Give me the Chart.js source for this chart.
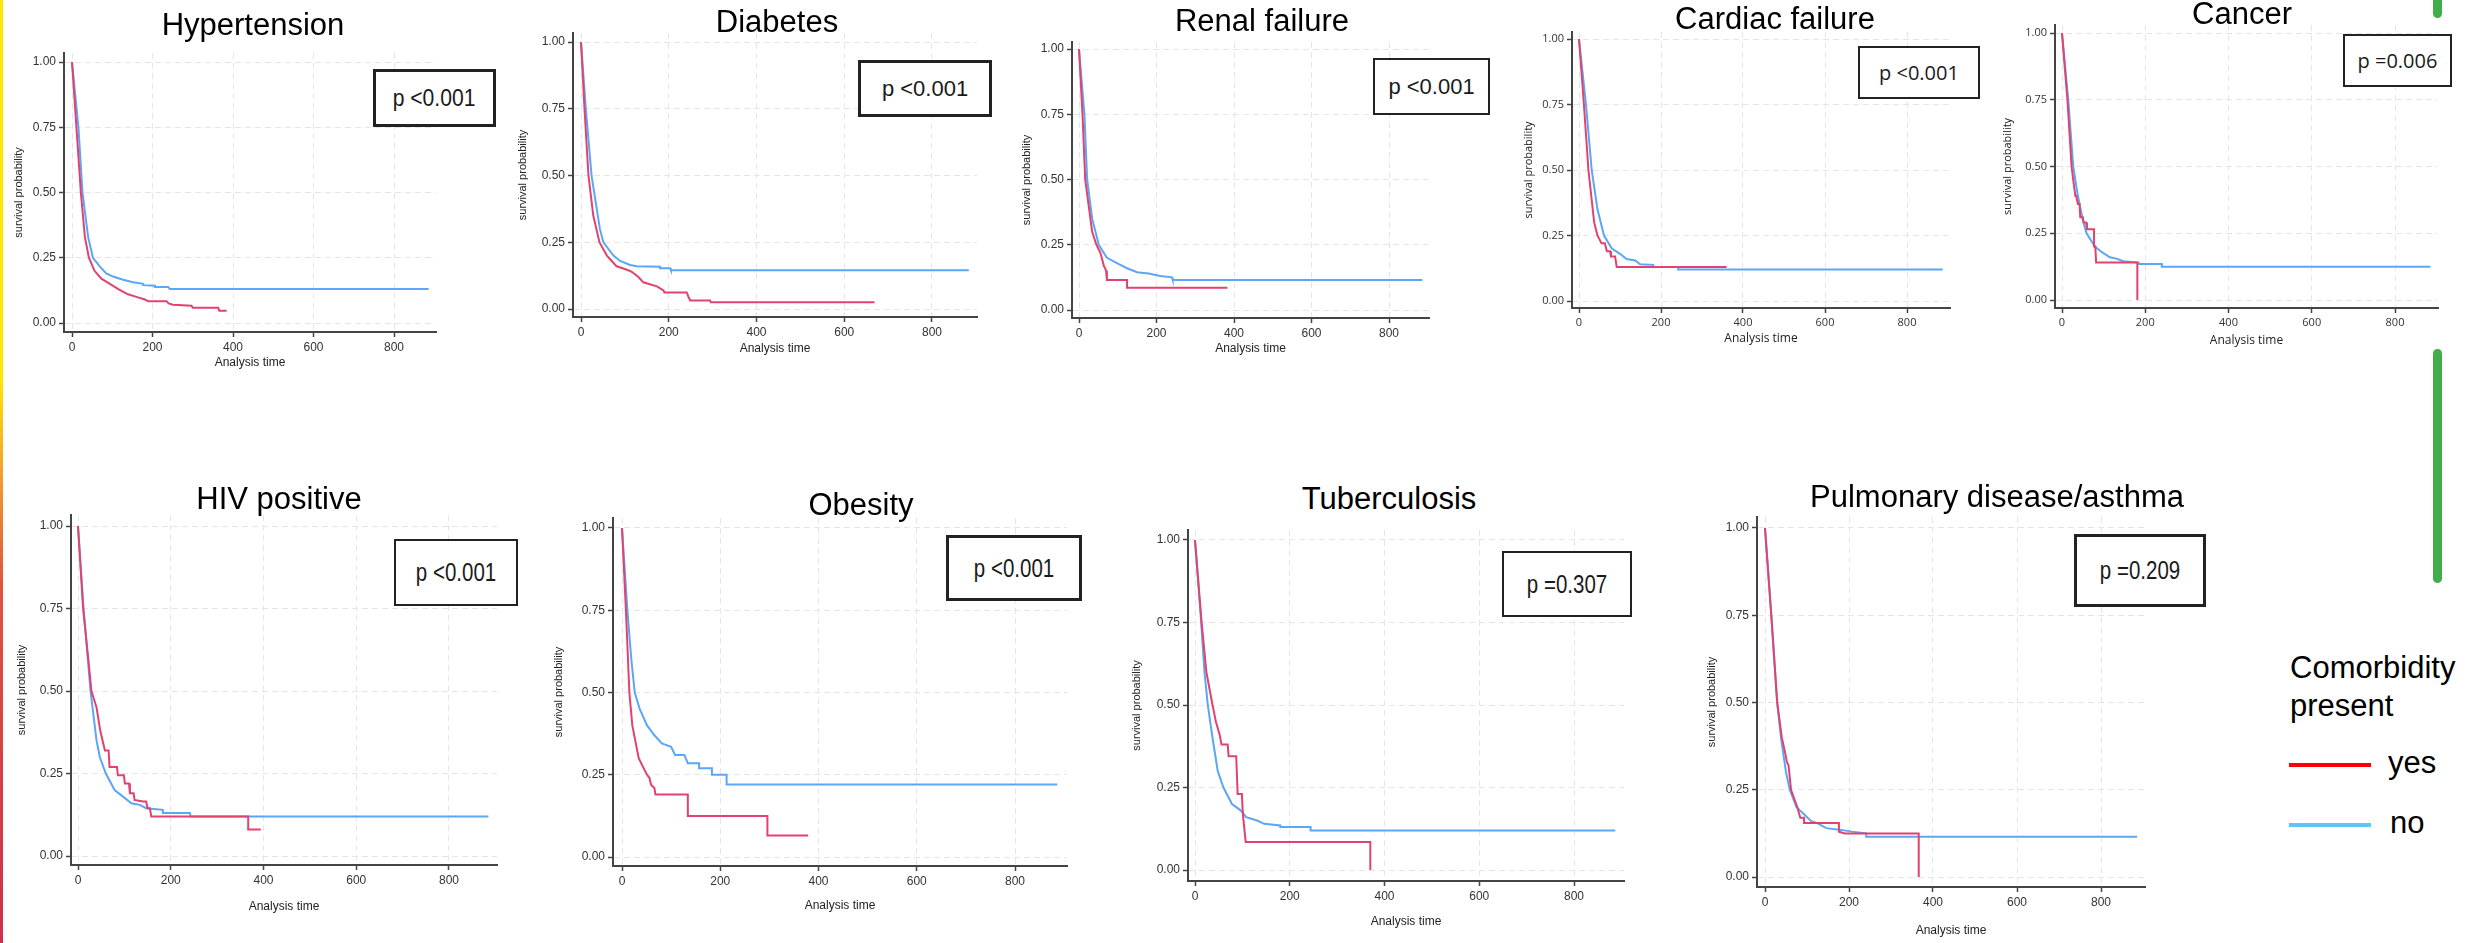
<!DOCTYPE html>
<html>
<head>
<meta charset="utf-8">
<title>Survival by comorbidity</title>
<script src="https://cdn.jsdelivr.net/npm/chart.js@4.4.1/dist/chart.umd.min.js"></script>
<style>
  html, body { margin: 0; padding: 0; background: #fff; }
  body { width: 2476px; height: 943px; position: relative; overflow: hidden; font-family: 'Liberation Sans', Arial, sans-serif; }
  canvas { position: absolute; }
  .panel-title { position: absolute; transform: translate(-50%, -50%); font-size: 31px; color: #000; white-space: nowrap; z-index: 2; }
  .pbox { position: absolute; box-sizing: border-box; border: 2px solid #222; background: #fff; display: flex; align-items: center; justify-content: center; color: #1a1a1a; white-space: nowrap; z-index: 3; }
  .pbox span { display: inline-block; }
  .edge { position: absolute; left: 0; top: 0; width: 3px; height: 943px; background: linear-gradient(#ffe600 0%, #ffe600 40%, #f3a12c 50%, #e0533f 62%, #cf2f4b 100%); }
  .green { position: absolute; left: 2433px; width: 9px; background: #41ad49; border-radius: 5px; }
  .legend-text { position: absolute; font-size: 31px; color: #000; line-height: 1; transform: translateY(-50%); white-space: nowrap; }
  .legend-line { position: absolute; height: 4px; }
</style>
</head>
<body>
<div class="edge"></div>
<div class="green" style="top:-8px;height:26px;"></div>
<div class="green" style="top:349px;height:234px;"></div>

<script>
// ---- tick labels shared by every panel
const xTicks = [0, 200, 400, 600, 800];
const yTicks = [0, 0.25, 0.5, 0.75, 1];

// ---- panel names and log-rank p values
const titles = ["Hypertension", "Diabetes", "Renal failure", "Cardiac failure", "Cancer",
                "HIV positive", "Obesity", "Tuberculosis", "Pulmonary disease/asthma"];
const pValues = ["p <0.001", "p <0.001", "p <0.001", "p <0.001", "p =0.006",
                 "p <0.001", "p <0.001", "p =0.307", "p =0.209"];
const groups = ["yes", "no"];

// ---- survival curves, [analysis time, survival probability]
const hypYes = [[0,1],[11,0.75],[22,0.5],[32,0.33],[42,0.25],[56,0.2],[73,0.17],[94,0.15],[115,0.13],[139,0.11],[160,0.1],[181,0.09],[190,0.083],[235,0.083],[240,0.075],[251,0.07],[297,0.066],[300,0.058],[363,0.058],[366,0.047],[384,0.047]];
const hypNo = [[0,1],[16,0.75],[26,0.5],[40,0.33],[52,0.25],[69,0.217],[85,0.19],[102,0.178],[127,0.166],[152,0.156],[177,0.15],[177,0.145],[206,0.143],[206,0.138],[239,0.138],[243,0.13],[886,0.13]];

const diaYes = [[0,1],[8,0.75],[17,0.5],[28,0.35],[42,0.25],[59,0.2],[81,0.16],[100,0.15],[115,0.14],[123,0.13],[131,0.12],[142,0.1],[173,0.085],[188,0.07],[190,0.062],[241,0.062],[245,0.045],[249,0.032],[294,0.032],[296,0.025],[669,0.025]];
const diaNo = [[0,1],[11,0.75],[24,0.5],[43,0.3],[51,0.25],[74,0.2],[89,0.18],[112,0.165],[127,0.16],[180,0.158],[180,0.153],[203,0.153],[205,0.145],[884,0.145]];

const renYes = [[0,1],[9,0.75],[16,0.5],[34,0.3],[45,0.25],[55,0.22],[64,0.17],[70,0.15],[72,0.115],[124,0.115],[124,0.085],[383,0.085]];
const renNo = [[0,1],[14,0.75],[21,0.5],[34,0.35],[51,0.25],[72,0.2],[98,0.18],[124,0.16],[132,0.155],[150,0.145],[180,0.14],[210,0.13],[240,0.125],[242,0.115],[886,0.115]];

const carYes = [[0,1],[12,0.75],[23,0.5],[37,0.3],[45,0.25],[55,0.22],[63,0.22],[68,0.19],[76,0.19],[78,0.17],[88,0.17],[92,0.13],[360,0.13]];
const carNo = [[0,1],[17,0.75],[31,0.5],[45,0.35],[61,0.25],[80,0.2],[100,0.18],[116,0.16],[137,0.155],[149,0.14],[181,0.138],[181,0.13],[242,0.13],[242,0.12],[887,0.12]];

const canYes = [[0,1],[13,0.75],[23,0.5],[27,0.45],[32,0.39],[34,0.39],[38,0.36],[42,0.36],[44,0.31],[50,0.31],[52,0.29],[58,0.29],[60,0.265],[77,0.265],[77,0.2],[80,0.2],[82,0.14],[181,0.14],[181,0]];
const canNo = [[0,1],[15,0.75],[27,0.5],[37,0.4],[50,0.3],[59,0.25],[79,0.2],[95,0.18],[115,0.16],[131,0.155],[147,0.145],[184,0.14],[184,0.135],[240,0.135],[240,0.125],[885,0.125]];

const hivYes = [[0,1],[11,0.75],[22,0.6],[29,0.5],[40,0.45],[48,0.38],[58,0.32],[66,0.32],[68,0.27],[84,0.27],[86,0.245],[99,0.245],[101,0.22],[110,0.22],[112,0.19],[120,0.19],[122,0.17],[140,0.165],[147,0.165],[150,0.145],[155,0.145],[158,0.12],[367,0.12],[367,0.08],[394,0.08]];
const hivNo = [[0,1],[12,0.75],[27,0.5],[40,0.35],[47,0.3],[60,0.25],[79,0.2],[97,0.18],[115,0.16],[133,0.155],[147,0.145],[183,0.14],[183,0.13],[241,0.13],[243,0.12],[885,0.12]];

const obeYes = [[0,1],[8,0.75],[15,0.5],[21,0.4],[34,0.3],[44,0.27],[51,0.25],[56,0.24],[59,0.22],[66,0.21],[68,0.19],[134,0.19],[134,0.125],[296,0.125],[296,0.065],[379,0.065]];
const obeNo = [[0,1],[11,0.75],[19,0.6],[26,0.5],[36,0.45],[51,0.4],[66,0.37],[81,0.345],[100,0.335],[108,0.31],[127,0.31],[134,0.285],[157,0.285],[157,0.27],[183,0.27],[183,0.25],[213,0.25],[213,0.22],[886,0.22]];

const tbYes = [[0,1],[14,0.75],[24,0.6],[37,0.5],[44,0.45],[52,0.41],[56,0.38],[69,0.38],[71,0.345],[87,0.345],[90,0.23],[99,0.23],[101,0.17],[107,0.085],[370,0.085],[370,0]];
const tbNo = [[0,1],[13,0.75],[20,0.6],[27,0.5],[37,0.4],[48,0.3],[60,0.25],[78,0.2],[97,0.18],[108,0.16],[131,0.15],[146,0.14],[180,0.135],[180,0.13],[244,0.13],[244,0.12],[887,0.12]];

const pulYes = [[0,1],[15,0.75],[29,0.5],[40,0.4],[49,0.35],[52,0.33],[56,0.32],[62,0.25],[71,0.22],[77,0.2],[84,0.17],[93,0.17],[93,0.155],[176,0.155],[176,0.13],[190,0.125],[366,0.125],[366,0]];
const pulNo = [[0,1],[15,0.75],[29,0.5],[38,0.4],[50,0.3],[59,0.25],[75,0.2],[93,0.18],[110,0.16],[123,0.155],[146,0.14],[181,0.135],[207,0.13],[241,0.125],[241,0.115],[886,0.115]];

// ---- where each small plot sits on the page
const REGULAR = "'Liberation Sans', Arial, sans-serif";
const OPEN = "'Open Sans', 'Liberation Sans', sans-serif";

const panels = [
  {yes: hypYes, no: hypNo, axL: 64, axR: 436, axT: 53, axB: 332, x0: 72, x800: 394, y1: 62, y0: 323, tx: 253, ty: 25, box: [373, 69, 123, 58], bw: 3, yTitleX: 19, xTitleY: 363, font: REGULAR, tick: 12, pFont: REGULAR, pSize: 24, squeeze: 0.88},
  {yes: diaYes, no: diaNo, axL: 573, axR: 977, axT: 33, axB: 317, x0: 581, x800: 932, y1: 42, y0: 309, tx: 777, ty: 22, box: [858, 60, 134, 57], bw: 3, yTitleX: 523, xTitleY: 349, font: REGULAR, tick: 12, pFont: REGULAR, pSize: 22, squeeze: 1},
  {yes: renYes, no: renNo, axL: 1072, axR: 1429, axT: 42, axB: 318, x0: 1079, x800: 1389, y1: 49, y0: 310, tx: 1262, ty: 21, box: [1373, 58, 117, 57], bw: 2, yTitleX: 1027, xTitleY: 349, font: REGULAR, tick: 12, pFont: REGULAR, pSize: 22, squeeze: 1},
  {yes: carYes, no: carNo, axL: 1572, axR: 1950, axT: 32, axB: 308, x0: 1579, x800: 1907, y1: 39, y0: 301, tx: 1775, ty: 19, box: [1858, 46, 122, 53], bw: 2, yTitleX: 1529, xTitleY: 339, font: OPEN, tick: 11, pFont: OPEN, pSize: 20, squeeze: 1},
  {yes: canYes, no: canNo, axL: 2055, axR: 2438, axT: 25, axB: 308, x0: 2062, x800: 2395, y1: 33, y0: 300, tx: 2242, ty: 14, box: [2343, 34, 109, 53], bw: 2, yTitleX: 2008, xTitleY: 341, font: OPEN, tick: 11, pFont: OPEN, pSize: 20, squeeze: 1},
  {yes: hivYes, no: hivNo, axL: 71, axR: 497, axT: 515, axB: 865, x0: 78, x800: 449, y1: 526, y0: 856, tx: 279, ty: 499, box: [394, 539, 124, 67], bw: 2, yTitleX: 22, xTitleY: 907, font: REGULAR, tick: 12, pFont: REGULAR, pSize: 25, squeeze: 0.82},
  {yes: obeYes, no: obeNo, axL: 613, axR: 1067, axT: 518, axB: 866, x0: 622, x800: 1015, y1: 528, y0: 857, tx: 861, ty: 505, box: [946, 535, 136, 66], bw: 3, yTitleX: 559, xTitleY: 906, font: REGULAR, tick: 12, pFont: REGULAR, pSize: 25, squeeze: 0.82},
  {yes: tbYes, no: tbNo, axL: 1188, axR: 1624, axT: 530, axB: 881, x0: 1195, x800: 1574, y1: 540, y0: 870, tx: 1389, ty: 499, box: [1502, 551, 130, 66], bw: 2, yTitleX: 1137, xTitleY: 922, font: REGULAR, tick: 12, pFont: REGULAR, pSize: 25, squeeze: 0.82},
  {yes: pulYes, no: pulNo, axL: 1757, axR: 2145, axT: 517, axB: 887, x0: 1765, x800: 2101, y1: 528, y0: 877, tx: 1997, ty: 497, box: [2074, 534, 132, 73], bw: 3, yTitleX: 1712, xTitleY: 931, font: REGULAR, tick: 12, pFont: REGULAR, pSize: 25, squeeze: 0.82}
];

const yesColor = "#e2426f";
const noColor = "#5aa7f7";

function drawPanel(p, i) {
  const yTitleLh = 13.2;
  const xTitleLh = 14.4;
  const left = Math.round(p.yTitleX - yTitleLh / 2);
  const top = p.axT - 12;
  const bottom = Math.round(p.xTitleY + xTitleLh / 2);
  const yW = p.axL - left;
  const xH = bottom - p.axB;

  const canvas = document.createElement("canvas");
  canvas.width = p.axR - p.axL + yW + 4;
  canvas.height = bottom - top;
  canvas.style.left = left + "px";
  canvas.style.top = top + "px";
  document.body.appendChild(canvas);

  const pxX = (p.x800 - p.x0) / 800;
  const pxY = p.y0 - p.y1;

  new Chart(canvas, {
    type: "line",
    data: {
      datasets: [
        {label: groups[0], data: p.yes.map(([x, y]) => ({x, y})), borderColor: yesColor},
        {label: groups[1], data: p.no.map(([x, y]) => ({x, y})), borderColor: noColor}
      ]
    },
    options: {
      responsive: false,
      animation: false,
      layout: {padding: {top: 12, right: 4, bottom: 0, left: 0}},
      elements: {
        point: {radius: 0},
        line: {borderWidth: 2, tension: 0, fill: false}
      },
      plugins: {legend: {display: false}, tooltip: {enabled: false}},
      scales: {
        x: {
          type: "linear",
          min: (p.axL - p.x0) / pxX,
          max: (p.axR - p.x0) / pxX,
          afterBuildTicks: s => { s.ticks = xTicks.map(v => ({value: v})); },
          afterFit: s => { s.height = xH; },
          ticks: {color: "#333", padding: 3, font: {family: p.font, size: p.tick}, maxRotation: 0, callback: v => String(v)},
          grid: {color: "#e6e6e6", lineWidth: 1, tickColor: "#444", tickLength: 5, tickWidth: 1.5},
          border: {display: true, color: "#444", width: 2, dash: [6, 4]},
          title: {display: true, text: "Analysis time", color: "#222", padding: 0, font: {family: p.font, size: 12, lineHeight: 1.2}}
        },
        y: {
          type: "linear",
          min: -(p.axB - p.y0) / pxY,
          max: 1 + (p.y1 - p.axT) / pxY,
          afterBuildTicks: s => { s.ticks = yTicks.map(v => ({value: v})); },
          afterFit: s => { s.width = yW; },
          ticks: {color: "#333", padding: 3, font: {family: p.font, size: p.tick}, callback: v => v.toFixed(2)},
          grid: {color: "#e6e6e6", lineWidth: 1, tickColor: "#444", tickLength: 5, tickWidth: 1.5},
          border: {display: true, color: "#444", width: 2, dash: [6, 4]},
          title: {display: true, text: "survival probability", color: "#222", padding: 0, font: {family: p.font, size: 11, lineHeight: 1.2}}
        }
      }
    }
  });

  const t = document.createElement("div");
  t.className = "panel-title";
  t.textContent = titles[i];
  t.style.left = p.tx + "px";
  t.style.top = p.ty + "px";
  document.body.appendChild(t);

  const b = document.createElement("div");
  b.className = "pbox";
  b.style.left = p.box[0] + "px";
  b.style.top = p.box[1] + "px";
  b.style.width = p.box[2] + "px";
  b.style.height = p.box[3] + "px";
  b.style.borderWidth = p.bw + "px";
  b.style.fontFamily = p.pFont;
  b.style.fontSize = p.pSize + "px";
  const s = document.createElement("span");
  s.textContent = pValues[i];
  s.style.transform = "scaleX(" + p.squeeze + ")";
  b.appendChild(s);
  document.body.appendChild(b);
}

panels.forEach(drawPanel);

// ---- shared legend
function legendText(text, x, y) {
  const d = document.createElement("div");
  d.className = "legend-text";
  d.textContent = text;
  d.style.left = x + "px";
  d.style.top = y + "px";
  document.body.appendChild(d);
}
function legendLine(color, y) {
  const d = document.createElement("div");
  d.className = "legend-line";
  d.style.left = "2289px";
  d.style.width = "82px";
  d.style.top = (y - 2) + "px";
  d.style.background = color;
  document.body.appendChild(d);
}
legendText("Comorbidity", 2290, 667);
legendText("present", 2290, 705);
legendLine("#ff0000", 765);
legendText(groups[0], 2388, 762);
legendLine("#5ac8f5", 825);
legendText(groups[1], 2390, 822);
</script>
</body>
</html>
